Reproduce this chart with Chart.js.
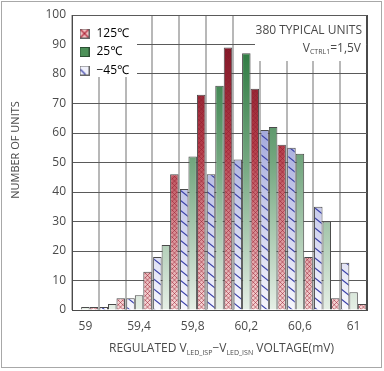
<!DOCTYPE html>
<html><head><meta charset="utf-8">
<script src="https://cdn.jsdelivr.net/npm/chart.js@4.4.1/dist/chart.umd.min.js"></script>
<style>html,body{margin:0;padding:0;background:#fff;} canvas{display:block;}</style>
</head><body>
<canvas id="c" width="384" height="371"></canvas>
<script>
// ---- data ----
const categories = [59.0, 59.2, 59.4, 59.6, 59.8, 60.0, 60.2, 60.4, 60.6, 60.8, 61.0];
const tickLabels = ['59', '', '59,4', '', '59,8', '', '60,2', '', '60,6', '', '61'];
const seriesNames = ['125℃', '25℃', '−45℃'];
const units125 = [1, 4, 13, 46, 73, 89, 75, 56, 18, 4, 2];
const units25 = [1, 2, 5, 22, 52, 76, 87, 62, 53, 30, 6];
const unitsMinus45 = [0, 1, 4, 18, 41, 46, 51, 61, 55, 35, 16];
const yTickValues = [0, 10, 20, 30, 40, 50, 60, 70, 80, 90, 100];

const FONT = "'Open Sans', 'Noto Sans', 'DejaVu Sans', sans-serif";
const TEXT = '#4a4a4a';

// ---- fills (gradient over the plot + hatch) ----
const STYLES = {
  hot:  {stops: [[0, '#6e0d1c'], [0.45, '#b5404c'], [1, '#f6d6d6']], hatch: 'cross', line: 'rgba(150,25,45,0.5)'},
  room: {stops: [[0, '#1a6e30'], [0.5, '#74a780'], [1, '#e6efe6']], hatch: null},
  cold: {stops: [[0, '#6a72c2'], [0.5, '#b4b8e2'], [1, '#f7f7fd']], hatch: 'diag', line: '#3a40a8'}
};
const fillCache = {};
function fillFor(chart, key, fallback) {
  const a = chart.chartArea;
  if (!a) return fallback;
  const k = [a.top, a.bottom, chart.width, chart.height].join(',');
  if (fillCache[key] && fillCache[key].k === k) return fillCache[key].p;
  const c = document.createElement('canvas');
  c.width = chart.width; c.height = chart.height;
  const g = c.getContext('2d');
  const st = STYLES[key];
  const grad = g.createLinearGradient(0, a.top, 0, a.bottom);
  st.stops.forEach(s => grad.addColorStop(s[0], s[1]));
  g.fillStyle = grad;
  g.fillRect(0, 0, c.width, c.height);
  const W = c.width, H = c.height;
  if (st.hatch === 'cross') {
    g.strokeStyle = st.line; g.lineWidth = 1;
    g.beginPath();
    for (let x = -H; x < W + H; x += 4.5) {
      g.moveTo(x, 0); g.lineTo(x + H, H);
      g.moveTo(x, H); g.lineTo(x + H, 0);
    }
    g.stroke();
  } else if (st.hatch === 'diag') {
    g.strokeStyle = st.line; g.lineWidth = 1.1;
    g.beginPath();
    for (let y = -W; y < H + W; y += 10) {
      g.moveTo(0, y); g.lineTo(W, y + W * 0.8);
    }
    g.stroke();
  }
  const p = chart.ctx.createPattern(c, 'no-repeat');
  fillCache[key] = {k, p};
  return p;
}

// ---- legend icons ----
function icon(kind) {
  const c = document.createElement('canvas');
  c.width = 10; c.height = 10;
  const g = c.getContext('2d');
  if (kind === 'hot') {
    g.fillStyle = '#f2c2c4'; g.fillRect(0, 0, 10, 10);
    g.strokeStyle = '#b0283a'; g.lineWidth = 1.2;
    g.beginPath(); g.moveTo(1, 1); g.lineTo(9, 9); g.moveTo(9, 1); g.lineTo(1, 9); g.stroke();
    g.strokeStyle = '#666';
  } else if (kind === 'room') {
    g.fillStyle = '#4d9159'; g.fillRect(0, 0, 10, 10);
    g.strokeStyle = '#2c4f33';
  } else {
    g.fillStyle = '#f0f1fb'; g.fillRect(0, 0, 10, 10);
    g.strokeStyle = '#3a40a8'; g.lineWidth = 1.2;
    g.beginPath(); g.moveTo(1, 4); g.lineTo(6, 9); g.stroke();
    g.strokeStyle = '#666';
  }
  g.lineWidth = 1; g.strokeRect(0.5, 0.5, 9, 9);
  return c;
}
const ICONS = {hot: icon('hot'), room: icon('room'), cold: icon('cold')};

// ---- rich text helper (subscripts) ----
function drawRich(ctx, parts, x, y, align, size) {
  const main = size + 'px ' + FONT, sub = Math.round(size * 0.55) + 'px ' + FONT;
  let total = 0;
  parts.forEach(p => { ctx.font = p.sub ? sub : main; p.w = ctx.measureText(p.t).width; total += p.w; });
  let cx = align === 'right' ? x - total : (align === 'center' ? x - total / 2 : x);
  ctx.textAlign = 'left'; ctx.textBaseline = 'alphabetic';
  parts.forEach(p => { ctx.font = p.sub ? sub : main; ctx.fillText(p.t, cx, p.sub ? y + 2.5 : y); cx += p.w; });
}

const decor = {
  id: 'decor',
  beforeDraw(chart) {
    const ctx = chart.ctx;
    ctx.save();
    ctx.fillStyle = '#fff'; ctx.fillRect(0, 0, chart.width, chart.height);
    ctx.strokeStyle = '#a8a8a8'; ctx.lineWidth = 1;
    ctx.strokeRect(1.5, 1.5, 380, 366);
    ctx.restore();
  },
  afterLayout(chart) {
    const lg = chart.legend, a = chart.chartArea;
    if (lg && a) {
      const h = lg.height, w = lg.width;
      lg.left = a.left; lg.right = a.left + w;
      lg.top = a.top + 6; lg.bottom = a.top + 6 + h;
    }
  },
  afterDatasetsDraw(chart) {
    const ctx = chart.ctx, a = chart.chartArea;
    ctx.save();
    ctx.fillStyle = '#fff';
    ctx.fillRect(a.left + 1, a.top + 1, 64, 61);          // legend background
    ctx.fillRect(a.right - 112, a.top + 1, 111, 45);       // note background
    ctx.restore();
    if (chart.legend) chart.legend.draw();
    ctx.save();
    ctx.fillStyle = TEXT;
    drawRich(ctx, [{t: '380 TYPICAL UNITS'}], a.right - 5, a.top + 19, 'right', 12);
    drawRich(ctx, [{t: 'V'}, {t: 'CTRL1', sub: true}, {t: '=1,5V'}], a.right - 6, a.top + 36.5, 'right', 12);
    // x axis title
    drawRich(ctx, [{t: 'REGULATED V'}, {t: 'LED_ISP', sub: true}, {t: '−V'}, {t: 'LED_ISN', sub: true}, {t: ' VOLTAGE(mV)'}],
      (a.left + a.right) / 2 + 2, chart.height - 19, 'center', 12);
    // y axis title
    ctx.translate(16, 150);
    ctx.rotate(-Math.PI / 2);
    ctx.font = '11px ' + FONT;
    ctx.textAlign = 'center'; ctx.textBaseline = 'middle';
    ctx.fillText('NUMBER OF UNITS', 0, 0);
    ctx.restore();
  }
};

new Chart(document.getElementById('c'), {
  type: 'bar',
  data: {
    labels: categories,
    datasets: [
      {label: seriesNames[2], data: unitsMinus45, backgroundColor: c => fillFor(c.chart, 'cold', '#b4b8e2')},
      {label: seriesNames[1], data: units25, backgroundColor: c => fillFor(c.chart, 'room', '#76a882')},
      {label: seriesNames[0], data: units125, backgroundColor: c => fillFor(c.chart, 'hot', '#b84450')}
    ]
  },
  options: {
    responsive: false,
    animation: false,
    devicePixelRatio: 1,
    layout: {padding: {top: 15, right: 17, left: 0, bottom: 0}},
    datasets: {bar: {borderColor: '#4a4a4a', borderWidth: 1, barPercentage: 1, categoryPercentage: 0.95}},
    font: {family: FONT, size: 12},
    scales: {
      x: {
        type: 'category',
        grid: {offset: true, drawTicks: false, lineWidth: 2, color: c => (c.tick ? '#b8b8b8' : '#4a4a4a')},
        border: {color: '#4a4a4a', width: 1},
        ticks: {autoSkip: false, maxRotation: 0, padding: 9, color: TEXT, font: {family: FONT, size: 12},
          callback: (v, i) => tickLabels[i]},
        afterFit: s => { s.height = 61; }
      },
      y: {
        min: 0, max: 100,
        afterBuildTicks: s => { s.ticks = yTickValues.map(v => ({value: v})); },
        grid: {drawTicks: false, color: '#5a5a5a', lineWidth: 1},
        border: {color: '#4a4a4a', width: 1},
        ticks: {padding: 6, color: TEXT, font: {family: FONT, size: 12}},
        afterFit: s => { s.width = 72; }
      }
    },
    plugins: {
      tooltip: {enabled: false},
      legend: {
        position: 'chartArea', align: 'start',
        labels: {
          usePointStyle: true, padding: 6.5, color: TEXT, font: {family: FONT, size: 12},
          generateLabels: () => [
            {text: seriesNames[0], pointStyle: ICONS.hot, fillStyle: '#b84450', strokeStyle: '#666', lineWidth: 0, hidden: false, datasetIndex: 2},
            {text: seriesNames[1], pointStyle: ICONS.room, fillStyle: '#76a882', strokeStyle: '#666', lineWidth: 0, hidden: false, datasetIndex: 1},
            {text: seriesNames[2], pointStyle: ICONS.cold, fillStyle: '#b4b8e2', strokeStyle: '#666', lineWidth: 0, hidden: false, datasetIndex: 0}
          ]
        }
      }
    }
  },
  plugins: [decor]
});
</script>
</body></html>
